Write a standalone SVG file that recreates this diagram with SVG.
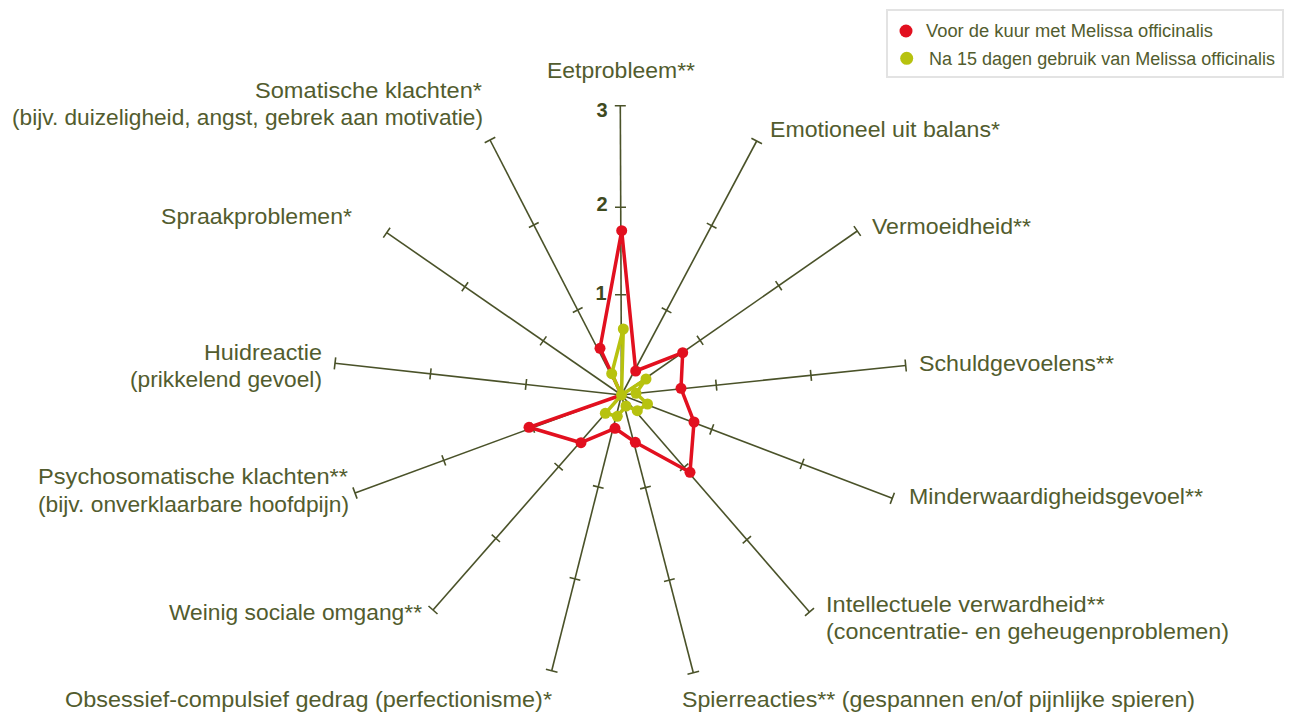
<svg xmlns="http://www.w3.org/2000/svg" width="1289" height="713" viewBox="0 0 1289 713">
<style>
  .ax { stroke: #4a5229; stroke-width: 1.6; fill: none; stroke-linecap: butt; }
  .lbl { font-family: "Liberation Sans", Arial, sans-serif; font-size: 22.5px; fill: #525c2e; }
  .end { text-anchor: end; }
  .num { font-family: "Liberation Sans", Arial, sans-serif; font-size: 20px; font-weight: bold; fill: #3f4a1f; text-anchor: middle; }
  .leg { font-family: "Liberation Sans", Arial, sans-serif; font-size: 18px; fill: #525c2e; }
  .red { stroke: #e2101f; stroke-width: 3.5; fill: none; stroke-linejoin: round; }
  .grn { stroke: #b7c20f; stroke-width: 3.5; fill: none; stroke-linejoin: round; }
  .rd { fill: #e2101f; }
  .gd { fill: #b7c20f; }
</style>
<rect width="1289" height="713" fill="#ffffff"/>

<g id="connectors">
  <g id="axes">
    <line class="ax" x1="621.5" y1="395" x2="620.3" y2="105.7"/>
    <line class="ax" x1="621.5" y1="395" x2="756.7" y2="141"/>
    <line class="ax" x1="621.5" y1="395" x2="857.3" y2="231"/>
    <line class="ax" x1="621.5" y1="395" x2="905.7" y2="365.5"/>
    <line class="ax" x1="621.5" y1="395" x2="892.3" y2="498.3"/>
    <line class="ax" x1="621.5" y1="395" x2="809.5" y2="612"/>
    <line class="ax" x1="621.5" y1="395" x2="693.3" y2="672.7"/>
    <line class="ax" x1="621.5" y1="395" x2="551.7" y2="670.7"/>
    <line class="ax" x1="621.5" y1="395" x2="433" y2="610"/>
    <line class="ax" x1="621.5" y1="395" x2="355" y2="493"/>
    <line class="ax" x1="621.5" y1="395" x2="335" y2="363.3"/>
    <line class="ax" x1="621.5" y1="395" x2="386.7" y2="232.7"/>
    <line class="ax" x1="621.5" y1="395" x2="490" y2="140"/>
  </g>
  <path id="ticks" class="ax" d="
    M615,294.7 L626,294.7 M615,207.3 L626,207.3 M614.8,105.7 L625.8,105.7
    M661.7,307.7 L671.4,312.9 M706.8,223.1 L716.5,228.3 M751.4,138.2 L762.0,143.8
    M697.0,335.8 L703.2,344.9 M775.6,281.1 L781.8,290.2 M853.9,226.1 L860.7,235.9
    M715.7,379.7 L716.8,390.6 M810.4,369.9 L811.5,380.8 M905.1,359.5 L906.3,371.5
    M713.7,424.3 L709.8,434.6 M804.0,458.7 L800.1,469.0 M894.4,492.7 L890.2,503.9
    M688.3,463.7 L680.0,470.9 M751.0,536.1 L742.7,543.3 M814.0,608.1 L805.0,615.9
    M650.8,486.2 L640.1,488.9 M674.7,578.8 L664.0,581.5 M699.1,671.2 L687.5,674.2
    M603.6,488.3 L592.9,485.6 M580.3,580.2 L569.6,577.5 M557.5,672.2 L545.9,669.2
    M562.8,470.3 L554.5,463.0 M500.0,542.0 L491.7,534.7 M437.5,614.0 L428.5,606.0
    M534.6,432.8 L530.8,422.5 M445.7,465.5 L441.9,455.2 M357.1,498.6 L352.9,487.4
    M526.6,379.0 L525.4,389.9 M431.1,368.4 L429.9,379.3 M335.7,357.3 L334.3,369.3
    M546.4,336.4 L540.1,345.4 M468.1,282.3 L461.8,291.3 M390.1,227.8 L383.3,237.6
    M582.6,307.5 L572.8,312.5 M538.7,222.5 L528.9,227.5 M495.3,137.3 L484.7,142.7"/>
</g>

<g id="tick-labels">
  <text class="num" x="602" y="117">3</text>
  <text class="num" x="602" y="211">2</text>
  <text class="num" x="601" y="300">1</text>
</g>

<g id="series-red">
  <polyline class="red" points="621.7,230.7 635.7,371 682.7,352.7 681,388.3 694,422 690,472.3 635.3,442.3 615,428.3 581,442.7 529,427.3 621.5,395 621.5,395 600,348.3 621.7,230.7"/>
  <circle class="rd" cx="621.7" cy="230.7" r="5.5"/>
  <circle class="rd" cx="635.7" cy="371" r="5.5"/>
  <circle class="rd" cx="682.7" cy="352.7" r="5.5"/>
  <circle class="rd" cx="681" cy="388.3" r="5.5"/>
  <circle class="rd" cx="694" cy="422" r="5.5"/>
  <circle class="rd" cx="690" cy="472.3" r="5.5"/>
  <circle class="rd" cx="635.3" cy="442.3" r="5.5"/>
  <circle class="rd" cx="615" cy="428.3" r="5.5"/>
  <circle class="rd" cx="581" cy="442.7" r="5.5"/>
  <circle class="rd" cx="529" cy="427.3" r="5.5"/>
  <circle class="rd" cx="600" cy="348.3" r="5.5"/>
</g>

<g id="series-green">
  <polyline class="grn" points="623.3,329 621.5,395 646,379 636,393.3 647.5,404 637.3,410.7 626,406 617.3,416.3 605.3,413.3 621.5,395 621.5,395 621.5,395 611.7,373.7 623.3,329"/>
  <circle class="gd" cx="623.3" cy="329" r="5.5"/>
  <circle class="gd" cx="621.5" cy="395" r="5.5"/>
  <circle class="gd" cx="646" cy="379" r="5.5"/>
  <circle class="gd" cx="636" cy="393.3" r="5.5"/>
  <circle class="gd" cx="647.5" cy="404" r="5.5"/>
  <circle class="gd" cx="637.3" cy="410.7" r="5.5"/>
  <circle class="gd" cx="626" cy="406" r="5.5"/>
  <circle class="gd" cx="617.3" cy="416.3" r="5.5"/>
  <circle class="gd" cx="605.3" cy="413.3" r="5.5"/>
  <circle class="gd" cx="611.7" cy="373.7" r="5.5"/>
</g>

<g id="labels">
  <g id="n-eet"><text class="lbl" x="547" y="78" textLength="148" lengthAdjust="spacingAndGlyphs">Eetprobleem**</text></g>
  <g id="n-emot"><text class="lbl" x="770" y="137" textLength="230" lengthAdjust="spacingAndGlyphs">Emotioneel uit balans*</text></g>
  <g id="n-verm"><text class="lbl" x="872" y="234" textLength="159" lengthAdjust="spacingAndGlyphs">Vermoeidheid**</text></g>
  <g id="n-schuld"><text class="lbl" x="919" y="371" textLength="195" lengthAdjust="spacingAndGlyphs">Schuldgevoelens**</text></g>
  <g id="n-minder"><text class="lbl" x="909" y="504" textLength="294" lengthAdjust="spacingAndGlyphs">Minderwaardigheidsgevoel**</text></g>
  <g id="n-intel"><text class="lbl" x="826" y="612" textLength="279" lengthAdjust="spacingAndGlyphs">Intellectuele verwardheid**</text><text class="lbl" x="826" y="639" textLength="403" lengthAdjust="spacingAndGlyphs">(concentratie- en geheugenproblemen)</text></g>
  <g id="n-spier"><text class="lbl" x="682" y="707" textLength="513" lengthAdjust="spacingAndGlyphs">Spierreacties** (gespannen en/of pijnlijke spieren)</text></g>
  <g id="n-obs"><text class="lbl" x="65" y="707" textLength="487" lengthAdjust="spacingAndGlyphs">Obsessief-compulsief gedrag (perfectionisme)*</text></g>
  <g id="n-weinig"><text class="lbl" x="169" y="620" textLength="253" lengthAdjust="spacingAndGlyphs">Weinig sociale omgang**</text></g>
  <g id="n-psycho"><text class="lbl" x="38" y="484" textLength="310" lengthAdjust="spacingAndGlyphs">Psychosomatische klachten**</text><text class="lbl" x="38" y="512" textLength="311" lengthAdjust="spacingAndGlyphs">(bijv. onverklaarbare hoofdpijn)</text></g>
  <g id="n-huid"><text class="lbl" x="204" y="360" textLength="118" lengthAdjust="spacingAndGlyphs">Huidreactie</text><text class="lbl" x="130" y="387" textLength="192" lengthAdjust="spacingAndGlyphs">(prikkelend gevoel)</text></g>
  <g id="n-spraak"><text class="lbl" x="161" y="224" textLength="191" lengthAdjust="spacingAndGlyphs">Spraakproblemen*</text></g>
  <g id="n-somat"><text class="lbl" x="255" y="98" textLength="227" lengthAdjust="spacingAndGlyphs">Somatische klachten*</text><text class="lbl" x="12" y="125" textLength="471" lengthAdjust="spacingAndGlyphs">(bijv. duizeligheid, angst, gebrek aan motivatie)</text></g>
</g>

<g id="legend">
  <rect x="887" y="10" width="396" height="67" fill="#ffffff" stroke="#e3e3e3" stroke-width="2"/>
  <circle class="rd" cx="906" cy="31" r="6.5"/>
  <text class="leg" x="926" y="37" textLength="287" lengthAdjust="spacingAndGlyphs">Voor de kuur met Melissa officinalis</text>
  <circle class="gd" cx="906.7" cy="58.3" r="6.5"/>
  <text class="leg" x="929" y="65" textLength="346" lengthAdjust="spacingAndGlyphs">Na 15 dagen gebruik van Melissa officinalis</text>
</g>
</svg>
